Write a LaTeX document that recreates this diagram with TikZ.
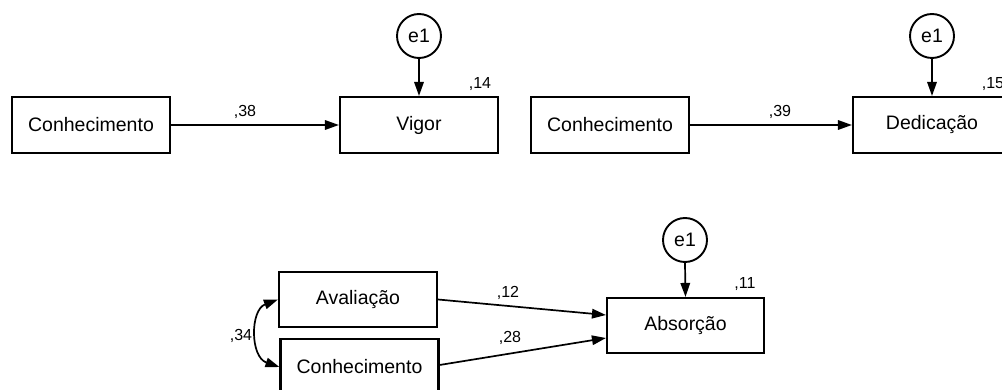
\documentclass[tikz,border=0pt]{standalone}
\usepackage{fontspec}
\setmainfont{Liberation Sans}
\usetikzlibrary{arrows.meta,calc}
\begin{document}
\begin{tikzpicture}[x=1pt,y=1pt,
  var/.style={draw,line width=2.1pt,minimum width=158pt,minimum height=56pt,inner sep=0pt,
    font=\fontsize{19.5}{22}\selectfont},
  err/.style={draw,circle,line width=1.9pt,minimum size=44pt,inner sep=0pt,
    font=\fontsize{19.5}{22}\selectfont},
  coef/.style={inner sep=0pt,font=\fontsize{16}{18}\selectfont},
  path/.style={line width=1.7pt,-{Triangle[length=14pt,width=9.5pt]}},
  cov/.style={line width=1.7pt,{Triangle[length=14pt,width=9.5pt]}-{Triangle[length=14pt,width=9.5pt]}}]
\useasboundingbox (0,0) rectangle (1002,-390);
\clip (0,0) rectangle (1002,-390);

% Model 1: Conhecimento -> Vigor
\node[var] (c1) at (91,-125) {Conhecimento};
\node[var] (vig) at (419,-125) {Vigor};
\node[err] (e1a) at (419,-36) {e1};
\draw[path] (c1.east) -- (vig.west);
\draw[path] (e1a.south) -- (vig.north);
\node[coef] (b1) at (245,-112) {,38};
\node[coef] (r1) at (480,-84) {,14};

% Model 2: Conhecimento -> Dedicacao
\node[var] (c2) at (610,-125) {Conhecimento};
\node[var] (ded) at (932,-125) {Dedicação};
\node[err] (e1b) at (932,-36) {e1};
\draw[path] (c2.east) -- (ded.west);
\draw[path] (e1b.south) -- (ded.north);
\node[coef] (b2) at (780,-112) {,39};
\node[coef] (r2) at (993,-84) {,15};

% Model 3: Avaliacao + Conhecimento -> Absorcao
\node[var,minimum height=55pt] (ava) at (358,-299.5) {Avaliação};
\node[var] (c3) at (359.5,-367) {Conhecimento};
\node[var,minimum width=157pt,minimum height=55pt] (abs) at (685.5,-325.5) {Absorção};
\node[err] (e1c) at (685,-240) {e1};
\draw[path] (ava.east) -- ($(abs.west)+(0,10.5)$);
\draw[path] ($(c3.east)+(0,2)$) -- ($(abs.west)+(0,-12.5)$);
\draw[path] (e1c.south) -- (abs.north);
\draw[cov] (ava.west) .. controls (250,-310) and (250,-357) .. (c3.west);
\node[coef] (b3) at (508,-293) {,12};
\node[coef] (b4) at (510,-338) {,28};
\node[coef] (r3) at (745,-284) {,11};
\node[coef] (k1) at (241,-336) {,34};
\end{tikzpicture}
\end{document}
